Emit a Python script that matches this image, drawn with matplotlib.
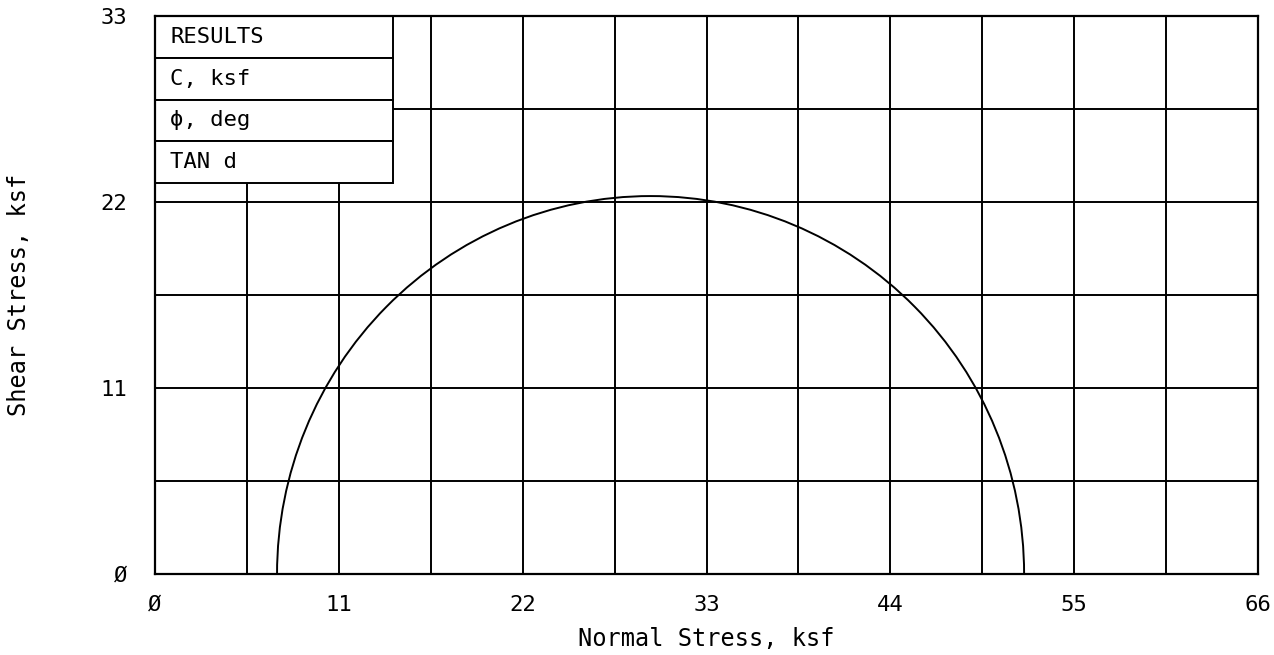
import matplotlib.pyplot as plt
from matplotlib.patches import Arc, Rectangle

# principal stresses of the Mohr circle, ksf
sigma3 = 7.3
sigma1 = 52.0

x_ticks = [0, 11, 22, 33, 44, 55, 66]
y_ticks = [0, 11, 22, 33]
grid_step = 5.5

table_rows = ["RESULTS", "C, ksf", "\u03d5, deg", "TAN d"]

FONT = "DejaVu Sans Mono"


def tick_text(v):
    "plotter draws zero with a slash"
    return "\u00d8" if v == 0 else str(v)


fig = plt.figure(figsize=(12.74, 6.55), dpi=100)
ax = fig.add_axes([0.1217, 0.1237, 0.8658, 0.8519])
ax.set_xlim(0, 66)
ax.set_ylim(0, 33)

"grid every 5.5 ksf"
g = grid_step
while g < 66:
    ax.axvline(g, color="black", lw=1.4, zorder=1)
    g += grid_step
g = grid_step
while g < 33:
    ax.axhline(g, color="black", lw=1.4, zorder=1)
    g += grid_step

"Mohr circle"
center = (sigma1 + sigma3) / 2
diameter = sigma1 - sigma3
ax.add_patch(Arc((center, 0), diameter, diameter, theta1=0, theta2=180,
                 color="black", lw=1.4, zorder=2))

"results table in the top left corner"
row_h = 2.47
tab_w = 14.24
for i, label in enumerate(table_rows):
    y0 = 33 - (i + 1) * row_h
    ax.add_patch(Rectangle((0, y0), tab_w, row_h, facecolor="white",
                           edgecolor="black", lw=1.4, zorder=3,
                           clip_on=False))
    ax.text(0.9, y0 + row_h / 2, label, family=FONT, fontsize=16,
            va="center", ha="left", zorder=4)

ax.set_xticks(x_ticks)
ax.set_yticks(y_ticks)
ax.set_xticklabels([tick_text(v) for v in x_ticks])
ax.set_yticklabels([tick_text(v) for v in y_ticks])
ax.tick_params(length=0, labelsize=16, labelfontfamily=FONT)
ax.tick_params(axis="x", pad=15)
ax.tick_params(axis="y", pad=20)

ax.set_xlabel("Normal Stress, ksf", family=FONT, fontsize=17, labelpad=9)
ax.set_ylabel("Shear Stress, ksf", family=FONT, fontsize=17, labelpad=50)

for s in ax.spines.values():
    s.set_linewidth(1.6)
    s.set_zorder(5)

fig.savefig("out.png", dpi=100)
